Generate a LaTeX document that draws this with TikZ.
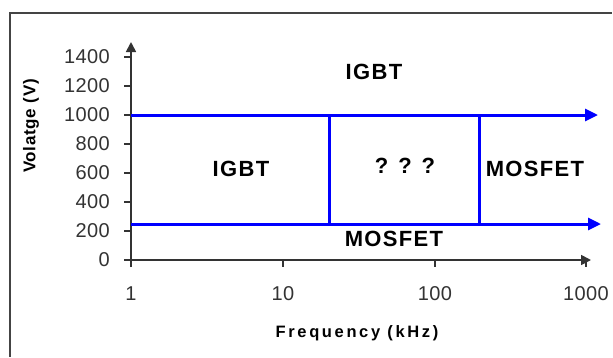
\documentclass[tikz,border=0pt]{standalone}
\usepackage{fontspec}
\setmainfont{Liberation Sans}
\usetikzlibrary{arrows.meta}
\definecolor{axisgray}{HTML}{333333}
\definecolor{framegray}{HTML}{444444}
\definecolor{lineblue}{HTML}{0000FF}
\begin{document}
\begin{tikzpicture}[x=1pt,y=-1pt,
  axisline/.style={draw=axisgray,line width=1.7pt},
  tickline/.style={draw=axisgray,line width=1.6pt},
  blueline/.style={draw=lineblue,line width=3pt},
  bluearrow/.style={blueline,-{Triangle[length=13pt,width=12pt]}},
  axisarrow/.style={axisline,-{Triangle[length=10pt,width=10pt]}},
  ticklbl/.style={inner sep=0pt,text=axisgray,font=\fontsize{20}{22}\selectfont\addfontfeature{LetterSpace=2}},
  regionlbl/.style={inner sep=0pt,text=black,font=\fontsize{22}{26}\selectfont\bfseries\addfontfeature{LetterSpace=6}},
  axistitle/.style={inner sep=0pt,text=black,font=\fontsize{16.5}{19}\selectfont\bfseries\addfontfeature{LetterSpace=16}}]
\useasboundingbox (0,0) rectangle (613,357);
\fill[white] (0,0) rectangle (613,357);
% frame (right and bottom edges lie outside the picture)
\draw[draw=framegray,line width=2pt] (612,13) -- (10,13) -- (10,357);
% axes
\coordinate (O) at (131,260);
\coordinate (ybot) at (131,267);
\coordinate (ytop) at (131,42);
\coordinate (xend) at (591,260);
\draw[axisarrow] (ybot) -- (ytop);
\draw[axisarrow] (O) -- (xend);
% y ticks and labels
\foreach \v in {0,200,400,600,800,1000,1200,1400}{
  \draw[tickline] (124,{260-0.145*\v}) -- (131,{260-0.145*\v});
  \node[ticklbl,anchor=east] (yl\v) at (110,{260-0.145*\v}) {\v};
}
% x ticks and labels
\foreach \x/\l in {131/1,283/10,435/100,586/1000}{
  \draw[tickline] (\x,260) -- (\x,267);
  \node[ticklbl] (xl\l) at (\x,294) {\l};
}
% axis titles
\node[axistitle] (xtitle) at (357,333) {Frequency (kHz)};
\node[axistitle,rotate=90,font=\fontsize{17}{20}\selectfont\bfseries\addfontfeature{LetterSpace=4}] (ytitle) at (31,126) {Volatge (V)};
% blue region lines
\coordinate (hiL) at (131,115);
\coordinate (hiR) at (598,115);
\coordinate (loL) at (131,224);
\coordinate (loR) at (601,224);
\coordinate (v1t) at (329,115);
\coordinate (v1b) at (329,224);
\coordinate (v2t) at (479,115);
\coordinate (v2b) at (479,224);
\draw[bluearrow] (hiL) -- (hiR);
\draw[bluearrow] (loL) -- (loR);
\draw[blueline] (v1t) -- (v1b);
\draw[blueline] (v2t) -- (v2b);
% region labels
\node[regionlbl] (igbttop) at (374,72) {IGBT};
\node[regionlbl] (igbtleft) at (241,169) {IGBT};
\node[regionlbl] (unknown) at (405,166) {? ? ?};
\node[regionlbl] (mosright) at (535,169) {MOSFET};
\node[regionlbl] (mosbot) at (394,239) {MOSFET};
\end{tikzpicture}
\end{document}
